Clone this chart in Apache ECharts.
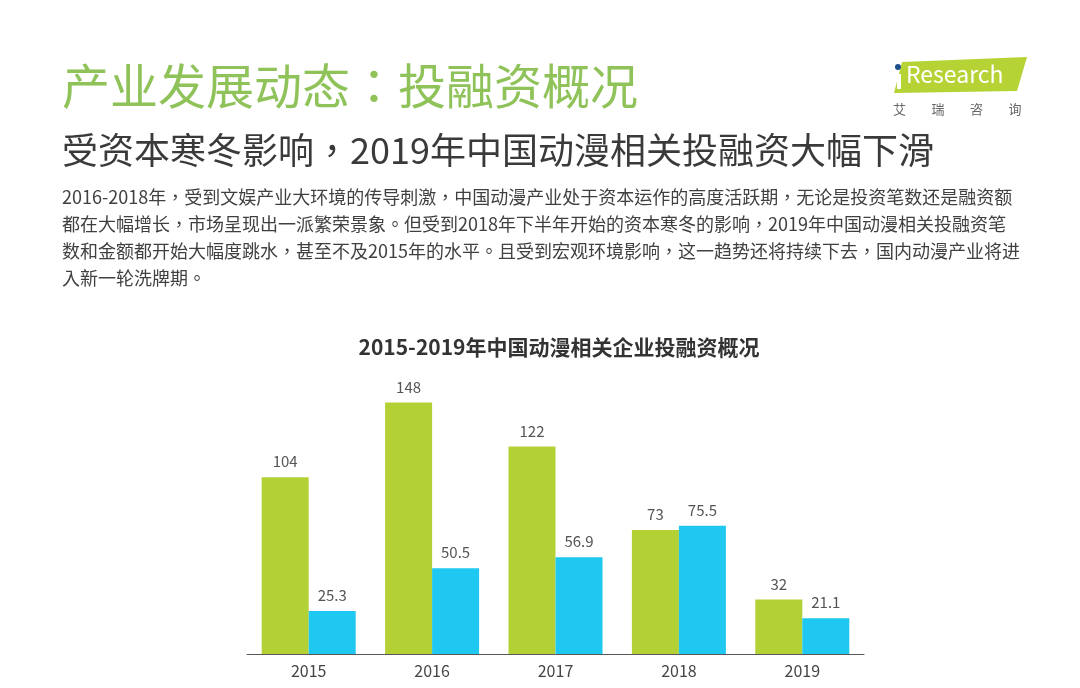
<!DOCTYPE html>
<html>
<head>
<meta charset="utf-8">
<title>2015-2019年中国动漫相关企业投融资概况</title>
<script src="https://cdn.jsdelivr.net/npm/echarts@6/dist/echarts.min.js"></script>
<style>
  html, body { margin: 0; padding: 0; background: #fff; }
  #chart { width: 1080px; height: 688px; }
</style>
</head>
<body>
<div id="chart"></div>
<script>
// 数据
const years = ['2015', '2016', '2017', '2018', '2019']
const dealCounts = [104, 148, 122, 73, 32]
const dealAmounts = [25.3, 50.5, 56.9, 75.5, 21.1]

const paragraph = [
  '2016-2018年，受到文娱产业大环境的传导刺激，中国动漫产业处于资本运作的高度活跃期，无论是投资笔数还是融资额',
  '都在大幅增长，市场呈现出一派繁荣景象。但受到2018年下半年开始的资本寒冬的影响，2019年中国动漫相关投融资笔',
  '数和金额都开始大幅度跳水，甚至不及2015年的水平。且受到宏观环境影响，这一趋势还将持续下去，国内动漫产业将进',
  '入新一轮洗牌期。'
]
const logoChars = ['艾', '瑞', '咨', '询']

// 标点居中用 TC 字体
const font = '"Noto Sans CJK TC", "Noto Sans CJK SC", "Noto Sans", sans-serif'
const myChart = echarts.init(document.getElementById('chart'))

const labelStyle = { show: true, position: 'top', distance: 8, fontFamily: font, fontSize: 15, color: '#555' }

const options = {
  animation: false,
  backgroundColor: '#fff',
  title: {
    text: '2015-2019年中国动漫相关企业投融资概况',
    left: 554,
    textAlign: 'center',
    top: 332,
    textStyle: { fontFamily: font, fontSize: 21, fontWeight: 'bold', color: '#333' }
  },
  grid: { left: 247, right: 216, top: 399, bottom: 34 },
  xAxis: {
    type: 'category',
    data: years,
    axisTick: { show: false },
    axisLine: { lineStyle: { color: '#595959', width: 1 } },
    axisLabel: { fontFamily: font, fontSize: 16, color: '#444', margin: 9 }
  },
  yAxis: {
    type: 'value',
    min: 0,
    max: 150,
    show: false,
    splitLine: { show: false }
  },
  series: [
    {
      name: '投融资笔数',
      type: 'bar',
      data: dealCounts,
      barWidth: 47,
      barGap: '0%',
      itemStyle: { color: '#b3d034' },
      label: labelStyle
    },
    {
      name: '投融资金额',
      type: 'bar',
      data: dealAmounts,
      barWidth: 47,
      barGap: '0%',
      itemStyle: { color: '#1fc8f0' },
      label: labelStyle
    }
  ],
  graphic: [
    // 标题
    {
      type: 'text', left: 62, top: 62,
      style: { text: '产业发展动态：投融资概况', font: '48px ' + font, fill: '#8fc35a' }
    },
    {
      type: 'text', left: 62, top: 132,
      style: { text: '受资本寒冬影响，2019年中国动漫相关投融资大幅下滑', font: '36px ' + font, fill: '#3a3a3a' }
    },
    // 正文
    {
      type: 'text', left: 62, top: 184,
      style: { text: paragraph.join('\n'), font: '18px ' + font, fill: '#404040', lineHeight: 27 }
    },
    // logo
    {
      type: 'polygon',
      shape: { points: [[902, 62], [1027, 57], [1017, 91], [894, 93]] },
      style: { fill: '#b5d334' }
    },
    {
      type: 'rect',
      shape: { x: 897, y: 74, width: 4, height: 15 },
      style: { fill: '#fff' }
    },
    {
      type: 'circle',
      shape: { cx: 898, cy: 67, r: 3 },
      style: { fill: '#1f4f8a' }
    },
    {
      type: 'text', left: 906, top: 63,
      style: { text: 'Research', font: '23px ' + font, fill: '#fff' }
    }
  ].concat(logoChars.map((c, i) => ({
    type: 'text', left: 893 + i * 38.5, top: 103,
    style: { text: c, font: '13px ' + font, fill: '#666' }
  })))
}
myChart.setOption(options)
</script>
</body>
</html>
